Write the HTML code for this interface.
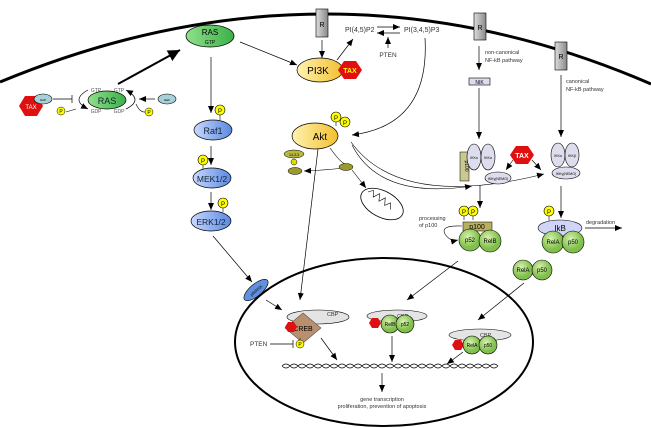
<!DOCTYPE html>
<html><head><meta charset="utf-8"><style>
html,body{margin:0;padding:0;background:#fff;}
svg{display:block;font-family:"Liberation Sans",sans-serif;}
</style></head><body>
<svg width="651" height="428" viewBox="0 0 651 428" xmlns="http://www.w3.org/2000/svg">
<defs>
<marker id="a" markerWidth="8" markerHeight="8" refX="7" refY="4" orient="auto" markerUnits="userSpaceOnUse"><path d="M0,1 L7,4 L0,7z" fill="#000"/></marker>
<marker id="ab" markerWidth="14" markerHeight="14" refX="12" refY="7" orient="auto" markerUnits="userSpaceOnUse"><path d="M0,1 L12,7 L0,13z" fill="#000"/></marker>
<radialGradient id="gg" cx="40%" cy="35%"><stop offset="0" stop-color="#d8f0b0"/><stop offset="1" stop-color="#7fbf4a"/></radialGradient>
<linearGradient id="gr" x1="0" x2="1"><stop offset="0" stop-color="#8fe08a"/><stop offset="1" stop-color="#3cb04a"/></linearGradient>
<linearGradient id="gy" x1="0" x2="1"><stop offset="0" stop-color="#fff2b0"/><stop offset="1" stop-color="#f2c030"/></linearGradient>
<linearGradient id="gb" x1="0" x2="1"><stop offset="0" stop-color="#c8d8ff"/><stop offset="1" stop-color="#5a88e0"/></linearGradient>
<linearGradient id="gs" x1="0" x2="1"><stop offset="0" stop-color="#ddd"/><stop offset="1" stop-color="#888"/></linearGradient>
</defs>
<path d="M0,82 Q330,-55 651,84" fill="none" stroke="#000" stroke-width="3"/>
<ellipse cx="384" cy="342" rx="149" ry="84" fill="none" stroke="#000" stroke-width="2"/>

<polygon points="25,96 37,96 43,106 37,116 25,116 19,106" fill="#e01010"/>
<text x="31" y="109" font-size="6" fill="#fff" text-anchor="middle">TAX</text>
<ellipse cx="43" cy="99" rx="9" ry="5" fill="#a8d0d8" stroke="#000" stroke-width=".6"/>
<text x="43" y="101" font-size="3" text-anchor="middle">GAP</text>
<line x1="53" y1="99" x2="72" y2="99" stroke="#000" stroke-width=".7"/><line x1="72" y1="95" x2="72" y2="103" stroke="#000" stroke-width=".7"/>
<circle cx="61" cy="111" r="4" fill="#ff0" stroke="#000" stroke-width=".5"/><text x="61" y="113" font-size="5" text-anchor="middle">P</text>
<path d="M88,90 Q70,100 88,109" fill="none" stroke="#000" stroke-width=".7" marker-end="url(#a)"/>
<path d="M76,109 L66,112" stroke="#000" stroke-width=".6"/>
<ellipse cx="107" cy="100" rx="19" ry="9" fill="url(#gr)" stroke="#000" stroke-width=".7"/>
<text x="107" y="104" font-size="9" text-anchor="middle" fill="#123">RAS</text>
<text x="96" y="92" font-size="5" fill="#555" text-anchor="middle">GTP</text><text x="119" y="92" font-size="5" fill="#555" text-anchor="middle">GTP</text>
<text x="96" y="113" font-size="5" fill="#555" text-anchor="middle">GDP</text><text x="119" y="113" font-size="5" fill="#555" text-anchor="middle">GDP</text>
<path d="M126,109 Q144,100 126,90" fill="none" stroke="#000" stroke-width=".7" marker-end="url(#a)"/>
<line x1="155" y1="99" x2="139" y2="99" stroke="#000" stroke-width=".7" marker-end="url(#a)"/>
<path d="M136,104 Q140,113 146,112" fill="none" stroke="#000" stroke-width=".6"/>
<circle cx="149" cy="112" r="4" fill="#ff0" stroke="#000" stroke-width=".5"/><text x="149" y="114" font-size="5" text-anchor="middle">P</text>
<ellipse cx="167" cy="99" rx="9" ry="5" fill="#a8d0d8" stroke="#000" stroke-width=".6"/>
<text x="167" y="101" font-size="3" text-anchor="middle">GEF</text>
<line x1="118" y1="84" x2="180" y2="50" stroke="#000" stroke-width="2" marker-end="url(#ab)"/>

<ellipse cx="210" cy="36" rx="24" ry="11" fill="url(#gr)" stroke="#000" stroke-width=".7"/>
<text x="210" y="35" font-size="8" text-anchor="middle">RAS</text><text x="210" y="44" font-size="5" text-anchor="middle">GTP</text>
<line x1="211" y1="57" x2="211" y2="113" stroke="#000" stroke-width=".7" marker-end="url(#a)"/>
<line x1="240" y1="42" x2="297" y2="65" stroke="#000" stroke-width=".7" marker-end="url(#a)"/>
<line x1="220" y1="114" x2="220" y2="120" stroke="#000" stroke-width=".6"/>
<circle cx="220" cy="110" r="5" fill="#ff0" stroke="#000" stroke-width=".6"/><text x="220" y="113" font-size="6" text-anchor="middle">P</text>
<ellipse cx="213" cy="130" rx="19" ry="10" fill="url(#gb)" stroke="#000" stroke-width=".7"/>
<text x="213" y="134" font-size="9" text-anchor="middle" fill="#123">Raf1</text>
<line x1="211" y1="146" x2="211" y2="165" stroke="#000" stroke-width=".7" marker-end="url(#a)"/>
<line x1="203" y1="164" x2="203" y2="169" stroke="#000" stroke-width=".6"/>
<circle cx="203" cy="160" r="5" fill="#ff0" stroke="#000" stroke-width=".6"/><text x="203" y="163" font-size="6" text-anchor="middle">P</text>
<ellipse cx="212" cy="178" rx="19" ry="10" fill="url(#gb)" stroke="#000" stroke-width=".7"/>
<text x="212" y="182" font-size="8.5" text-anchor="middle" fill="#123">MEK1/2</text>
<line x1="211" y1="192" x2="211" y2="210" stroke="#000" stroke-width=".7" marker-end="url(#a)"/>
<line x1="223" y1="207" x2="223" y2="212" stroke="#000" stroke-width=".6"/>
<circle cx="223" cy="203" r="5" fill="#ff0" stroke="#000" stroke-width=".6"/><text x="223" y="206" font-size="6" text-anchor="middle">P</text>
<ellipse cx="211" cy="221" rx="20" ry="10" fill="url(#gb)" stroke="#000" stroke-width=".7"/>
<text x="211" y="225" font-size="8.5" text-anchor="middle" fill="#123">ERK1/2</text>
<line x1="213" y1="236" x2="252" y2="282" stroke="#000" stroke-width=".7" marker-end="url(#a)"/>
<ellipse cx="256" cy="290" rx="15" ry="6" transform="rotate(-40 256 290)" fill="#6090e0" stroke="#000" stroke-width=".6"/>
<text x="256" y="292" font-size="4" text-anchor="middle" transform="rotate(-40 256 290)">p90RSK</text>
<line x1="266" y1="300" x2="282" y2="310" stroke="#000" stroke-width=".7" marker-end="url(#a)"/>

<rect x="316" y="9" width="12" height="28" fill="url(#gs)" stroke="#000" stroke-width=".6"/>
<text x="322" y="27" font-size="7" text-anchor="middle">R</text>
<line x1="322" y1="40" x2="322" y2="58" stroke="#000" stroke-width=".7" marker-end="url(#a)"/>
<ellipse cx="320" cy="70" rx="23" ry="12" fill="url(#gy)" stroke="#000" stroke-width=".7"/>
<text x="318" y="74" font-size="10" text-anchor="middle">PI3K</text>
<polygon points="344,61 356,61 362,70 356,79 344,79 338,70" fill="#e01010"/>
<text x="350" y="73" font-size="7" fill="#ff0" text-anchor="middle" font-weight="bold">TAX</text>
<line x1="337" y1="60" x2="353" y2="39" stroke="#000" stroke-width=".7" marker-end="url(#a)"/>
<text x="345" y="32" font-size="7" fill="#333">PI(4,5)P2</text>
<text x="404" y="32" font-size="7" fill="#333">PI(3,4,5)P3</text>
<line x1="377" y1="27" x2="400" y2="27" stroke="#000" stroke-width=".7" marker-end="url(#a)"/>
<line x1="400" y1="33" x2="377" y2="33" stroke="#000" stroke-width=".7" marker-end="url(#a)"/>
<line x1="388" y1="48" x2="388" y2="37" stroke="#000" stroke-width=".7" marker-end="url(#a)"/>
<text x="388" y="57" font-size="6.5" text-anchor="middle" fill="#333">PTEN</text>
<path d="M425,38 Q430,125 352,135" fill="none" stroke="#000" stroke-width=".7" marker-end="url(#a)"/>

<line x1="336" y1="122" x2="336" y2="126" stroke="#000" stroke-width=".6"/>
<circle cx="336" cy="117" r="5" fill="#ff0" stroke="#000" stroke-width=".6"/><text x="336" y="120" font-size="6" text-anchor="middle">P</text>
<circle cx="345" cy="122" r="5" fill="#ff0" stroke="#000" stroke-width=".6"/><text x="345" y="125" font-size="6" text-anchor="middle">P</text>
<ellipse cx="315" cy="136" rx="23" ry="13" fill="url(#gy)" stroke="#000" stroke-width=".7"/>
<text x="320" y="140" font-size="10" text-anchor="middle">Akt</text>
<line x1="318" y1="149" x2="300" y2="300" stroke="#000" stroke-width=".7" marker-end="url(#a)"/>
<ellipse cx="294" cy="154" rx="10" ry="4" fill="#b8b840" stroke="#000" stroke-width=".5"/>
<text x="294" y="156" font-size="3.5" text-anchor="middle">14-3-3</text>
<circle cx="294" cy="162" r="3" fill="#dd0" stroke="#000" stroke-width=".5"/>
<ellipse cx="295" cy="171" rx="7" ry="3.5" fill="#9a9a30" stroke="#000" stroke-width=".5"/>
<path d="M352,167 Q330,170 304,171" fill="none" stroke="#000" stroke-width=".6" marker-end="url(#a)"/>
<path d="M330,148 Q340,162 345,164" fill="none" stroke="#000" stroke-width=".6"/>
<ellipse cx="346" cy="167" rx="7" ry="3.5" fill="#9a9a30" stroke="#000" stroke-width=".5"/>
<line x1="352" y1="170" x2="366" y2="188" stroke="#000" stroke-width=".6" marker-end="url(#a)"/>
<ellipse cx="382" cy="204" rx="23" ry="13" transform="rotate(28 382 204)" fill="#fff" stroke="#000" stroke-width=".8"/>
<path d="M364,200 l4,-4 3,6 4,-6 3,7 4,-6 3,7 4,-5 3,6" fill="none" stroke="#000" stroke-width=".6" transform="rotate(28 382 204)"/>
<path d="M352,145 Q380,200 472,186" fill="none" stroke="#000" stroke-width=".6" marker-end="url(#a)"/>
<path d="M351,142 Q400,210 544,174" fill="none" stroke="#000" stroke-width=".6" marker-end="url(#a)"/>

<rect x="474" y="13" width="12" height="27" fill="url(#gs)" stroke="#000" stroke-width=".6"/>
<text x="480" y="30" font-size="7" text-anchor="middle">R</text>
<text x="485" y="54" font-size="5.5" fill="#333">non-canonical</text>
<text x="485" y="62" font-size="5.5" fill="#333">NF-kB pathway</text>
<line x1="479" y1="46" x2="479" y2="70" stroke="#000" stroke-width=".7" marker-end="url(#a)"/>
<rect x="469" y="78" width="21" height="7" fill="#dde" stroke="#000" stroke-width=".6"/>
<text x="479.5" y="84" font-size="5" text-anchor="middle">NIK</text>
<line x1="479" y1="88" x2="479" y2="139" stroke="#000" stroke-width=".7" marker-end="url(#a)"/>
<rect x="460" y="152" width="9" height="29" fill="#c8c890" stroke="#000" stroke-width=".5"/>
<text x="465" y="166" font-size="5" text-anchor="middle" transform="rotate(90 465 166)">p100</text>
<ellipse cx="474" cy="157" rx="7" ry="13" fill="#dde" stroke="#000" stroke-width=".6"/>
<ellipse cx="488" cy="157" rx="7" ry="13" fill="#dde" stroke="#000" stroke-width=".6"/>
<text x="474" y="159" font-size="3.5" text-anchor="middle">IKKα</text><text x="488" y="159" font-size="3.5" text-anchor="middle">IKKα</text>
<ellipse cx="498" cy="178" rx="13" ry="6" fill="#dde" stroke="#000" stroke-width=".6"/>
<text x="498" y="180" font-size="3.5" text-anchor="middle">IKKγ(NEMO)</text>
<polygon points="516,146 528,146 534,155 528,164 516,164 510,155" fill="#e01010"/>
<text x="522" y="158" font-size="7" fill="#fff" text-anchor="middle" font-weight="bold">TAX</text>
<line x1="513" y1="160" x2="506" y2="170" stroke="#000" stroke-width=".6" marker-end="url(#a)"/>
<line x1="532" y1="160" x2="541" y2="170" stroke="#000" stroke-width=".6" marker-end="url(#a)"/>
<line x1="480" y1="185" x2="480" y2="208" stroke="#000" stroke-width=".7" marker-end="url(#a)"/>
<line x1="464" y1="215" x2="464" y2="220" stroke="#000" stroke-width=".6"/><line x1="473" y1="215" x2="473" y2="220" stroke="#000" stroke-width=".6"/>
<circle cx="464" cy="211" r="5" fill="#ff0" stroke="#000" stroke-width=".6"/><text x="464" y="214" font-size="6" text-anchor="middle">P</text>
<circle cx="473" cy="211" r="5" fill="#ff0" stroke="#000" stroke-width=".6"/><text x="473" y="214" font-size="6" text-anchor="middle">P</text>
<rect x="463" y="222" width="29" height="9" fill="#b8b060" stroke="#000" stroke-width=".5"/>
<text x="477" y="229" font-size="7" text-anchor="middle">p100</text>
<circle cx="470" cy="240" r="11" fill="url(#gg)" stroke="#000" stroke-width=".6"/>
<circle cx="490" cy="241" r="11" fill="url(#gg)" stroke="#000" stroke-width=".6"/>
<text x="470" y="242" font-size="6" text-anchor="middle">p52</text><text x="490" y="243" font-size="6" text-anchor="middle">RelB</text>
<text x="419" y="220" font-size="5.5" fill="#333">processing</text>
<text x="419" y="227" font-size="5.5" fill="#333">of p100</text>
<path d="M462,226 Q440,225 445,234 Q450,242 458,240" fill="none" stroke="#000" stroke-width=".6" marker-end="url(#a)"/>
<line x1="458" y1="261" x2="407" y2="300" stroke="#000" stroke-width=".7" marker-end="url(#a)"/>

<rect x="555" y="42" width="12" height="28" fill="url(#gs)" stroke="#000" stroke-width=".6"/>
<text x="561" y="59" font-size="7" text-anchor="middle">R</text>
<text x="566" y="83" font-size="5.5" fill="#333">canonical</text>
<text x="566" y="91" font-size="5.5" fill="#333">NF-kB pathway</text>
<line x1="561" y1="75" x2="561" y2="137" stroke="#000" stroke-width=".7" marker-end="url(#a)"/>
<ellipse cx="558" cy="155" rx="7" ry="12" fill="#dde" stroke="#000" stroke-width=".6"/>
<ellipse cx="572" cy="155" rx="7" ry="12" fill="#dde" stroke="#000" stroke-width=".6"/>
<text x="558" y="157" font-size="3.5" text-anchor="middle">IKKα</text><text x="572" y="157" font-size="3.5" text-anchor="middle">IKKβ</text>
<ellipse cx="566" cy="173" rx="14" ry="6" fill="#dde" stroke="#000" stroke-width=".6"/>
<text x="566" y="175" font-size="3.5" text-anchor="middle">IKKγ(NEMO)</text>
<line x1="561" y1="186" x2="561" y2="218" stroke="#000" stroke-width=".7" marker-end="url(#a)"/>
<line x1="549" y1="215" x2="549" y2="221" stroke="#000" stroke-width=".6"/>
<circle cx="549" cy="211" r="5" fill="#ff0" stroke="#000" stroke-width=".6"/><text x="549" y="214" font-size="6" text-anchor="middle">P</text>
<ellipse cx="560" cy="228" rx="22" ry="8" fill="#d0d4f8" stroke="#000" stroke-width=".6"/>
<text x="560" y="231" font-size="8" text-anchor="middle">IkB</text>
<circle cx="553" cy="242" r="11" fill="url(#gg)" stroke="#000" stroke-width=".6"/>
<circle cx="573" cy="242" r="11" fill="url(#gg)" stroke="#000" stroke-width=".6"/>
<text x="553" y="244" font-size="6" text-anchor="middle">RelA</text><text x="573" y="244" font-size="6" text-anchor="middle">p50</text>
<text x="586" y="224" font-size="5.5" fill="#333">degradation</text>
<line x1="585" y1="228" x2="622" y2="228" stroke="#000" stroke-width=".7" marker-end="url(#a)"/>
<circle cx="523" cy="270" r="10" fill="url(#gg)" stroke="#000" stroke-width=".6"/>
<circle cx="542" cy="270" r="10" fill="url(#gg)" stroke="#000" stroke-width=".6"/>
<text x="523" y="272" font-size="6" text-anchor="middle">RelA</text><text x="542" y="272" font-size="6" text-anchor="middle">p50</text>
<line x1="524" y1="283" x2="478" y2="320" stroke="#000" stroke-width=".7" marker-end="url(#a)"/>

<ellipse cx="318" cy="317" rx="31" ry="7" fill="#e4e4e4" stroke="#000" stroke-width=".6"/>
<text x="327" y="316" font-size="5.5" fill="#333">CBP</text>
<polygon points="303,313 321,328 303,343 285,328" fill="#b89070" stroke="#555" stroke-width=".6"/>
<text x="303" y="331" font-size="7" text-anchor="middle">CREB</text>
<polygon points="288,322 294,322 297,327 294,332 288,332 285,327" fill="#e01010"/>
<line x1="300" y1="338" x2="300" y2="340" stroke="#000" stroke-width=".5"/>
<circle cx="300" cy="344" r="4" fill="#ff0" stroke="#000" stroke-width=".5"/><text x="300" y="346" font-size="5" text-anchor="middle">P</text>
<text x="250" y="346" font-size="6.5" fill="#333">PTEN</text>
<line x1="270" y1="344" x2="293" y2="344" stroke="#000" stroke-width=".7"/><line x1="293" y1="340" x2="293" y2="348" stroke="#000" stroke-width=".7"/>
<line x1="321" y1="338" x2="337" y2="360" stroke="#000" stroke-width=".7" marker-end="url(#a)"/>

<ellipse cx="397" cy="316" rx="30" ry="6" fill="#e4e4e4" stroke="#000" stroke-width=".6"/>
<text x="397" y="318" font-size="5.5" fill="#333">CBP</text>
<polygon points="372,318 378,318 381,323 378,328 372,328 369,323" fill="#e01010"/>
<circle cx="390" cy="324" r="9" fill="url(#gg)" stroke="#000" stroke-width=".6"/>
<circle cx="405" cy="324" r="9" fill="url(#gg)" stroke="#000" stroke-width=".6"/>
<text x="390" y="326" font-size="5" text-anchor="middle">RelB</text><text x="405" y="326" font-size="5" text-anchor="middle">p52</text>
<line x1="392" y1="336" x2="392" y2="362" stroke="#000" stroke-width=".7" marker-end="url(#a)"/>

<ellipse cx="480" cy="335" rx="31" ry="6" fill="#e4e4e4" stroke="#000" stroke-width=".6"/>
<text x="480" y="337" font-size="5.5" fill="#333">CBP</text>
<polygon points="455,340 461,340 464,345 461,350 455,350 452,345" fill="#e01010"/>
<circle cx="472" cy="345" r="9" fill="url(#gg)" stroke="#000" stroke-width=".6"/>
<circle cx="488" cy="345" r="9" fill="url(#gg)" stroke="#000" stroke-width=".6"/>
<text x="472" y="347" font-size="5" text-anchor="middle">RelA</text><text x="488" y="347" font-size="5" text-anchor="middle">p50</text>
<line x1="463" y1="352" x2="447" y2="364" stroke="#000" stroke-width=".7" marker-end="url(#a)"/>

<path d="M282,366 q4,-4 8,0 t8,0 t8,0 t8,0 t8,0 t8,0 t8,0 t8,0 t8,0 t8,0 t8,0 t8,0 t8,0 t8,0 t8,0 t8,0 t8,0 t8,0 t8,0 t8,0 t8,0 t8,0 t8,0 t8,0 t8,0 t8,0 t8,0" fill="none" stroke="#000" stroke-width=".6"/>
<path d="M282,366 q4,4 8,0 t8,0 t8,0 t8,0 t8,0 t8,0 t8,0 t8,0 t8,0 t8,0 t8,0 t8,0 t8,0 t8,0 t8,0 t8,0 t8,0 t8,0 t8,0 t8,0 t8,0 t8,0 t8,0 t8,0 t8,0 t8,0 t8,0" fill="none" stroke="#000" stroke-width=".6"/>
<line x1="382" y1="373" x2="382" y2="392" stroke="#000" stroke-width=".7" marker-end="url(#a)"/>
<text x="382" y="401" font-size="5.5" text-anchor="middle" fill="#333">gene transcription</text>
<text x="382" y="408" font-size="5.5" text-anchor="middle" fill="#333">proliferation, prevention of apoptosis</text>
</svg>
</body></html>
